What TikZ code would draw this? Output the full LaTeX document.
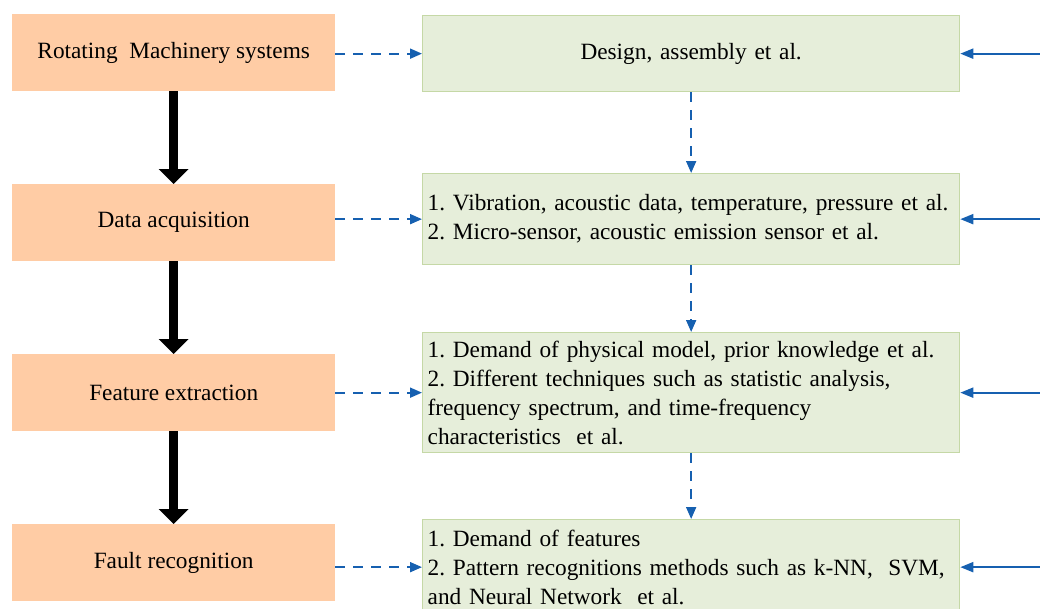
\documentclass[tikz,border=0pt]{standalone}
\usepackage{fontspec}
\setmainfont{Liberation Serif}
\usetikzlibrary{arrows.meta,calc}
\frenchspacing
\definecolor{peach}{RGB}{255,204,165}
\definecolor{gfill}{RGB}{230,238,218}
\definecolor{gborder}{RGB}{197,216,166}
\definecolor{fblue}{RGB}{22,96,176}
\tikzset{
  stagebox/.style={rectangle, fill=peach, draw=none, anchor=north west,
    minimum width=323pt, minimum height=77pt, inner sep=0pt,
    font=\fontsize{23.3}{29}\selectfont},
  infobox/.style={rectangle, fill=gfill, draw=gborder, line width=1.3pt, anchor=north west,
    minimum width=537pt, inner xsep=5pt, inner ysep=0pt, text width=527pt, align=left,
    font=\fontsize{23.3}{29}\selectfont},
  bigarrow/.style={line width=9pt, -{Triangle[length=15pt,width=29pt]}, black},
  dasharrow/.style={fblue, line width=1.8pt, dash pattern=on 10pt off 8pt,
    -{Triangle[length=12pt,width=10pt]}},
  solidarrow/.style={fblue, line width=2pt, -{Triangle[length=13pt,width=10pt]}}
}
\begin{document}
\begin{tikzpicture}[x=1pt,y=-1pt]
\useasboundingbox (0,0) rectangle (1040,608);
% left stages
\node[stagebox] (o1) at (12,14) {Rotating~ Machinery systems};
\node[stagebox] (o2) at (12,184) {Data acquisition};
\node[stagebox] (o3) at (12,354) {Feature extraction};
\node[stagebox] (o4) at (12,524) {Fault recognition};
% right info boxes
\node[infobox, minimum height=76pt, align=center] (g1) at (422,15) {Design, assembly et al.};
\node[infobox, minimum height=91pt] (g2) at (422,173) {1. Vibration, acoustic data, temperature, pressure et al.\\2. Micro-sensor, acoustic emission sensor et al.};
\node[infobox, minimum height=120pt] (g3) at (422,332) {1. Demand of physical model, prior knowledge et al.\\2. Different techniques such as statistic analysis,\\frequency spectrum, and time-frequency\\characteristics~ et al.};
\node[infobox, minimum height=95pt] (g4) at (422,519) {1. Demand of features\\2. Pattern recognitions methods such as k-NN,~ SVM,\\and Neural Network~ et al.};
% black arrows
\draw[bigarrow] (o1.south) -- (o2.north);
\draw[bigarrow] (o2.south) -- (o3.north);
\draw[bigarrow] (o3.south) -- (o4.north);
% dashed horizontal
\foreach \i in {1,2,3,4}{
  \draw[dasharrow] (o\i.east |- g\i.west) -- (g\i.west);
  \path (g\i.east) ++(90,0) coordinate (r\i);
  \draw[solidarrow] (r\i) -- (g\i.east);
}
% dashed vertical
\draw[dasharrow] (g1.south) -- (g2.north);
\draw[dasharrow] (g2.south) -- (g3.north);
\draw[dasharrow] (g3.south) -- (g4.north);
\end{tikzpicture}
\end{document}
